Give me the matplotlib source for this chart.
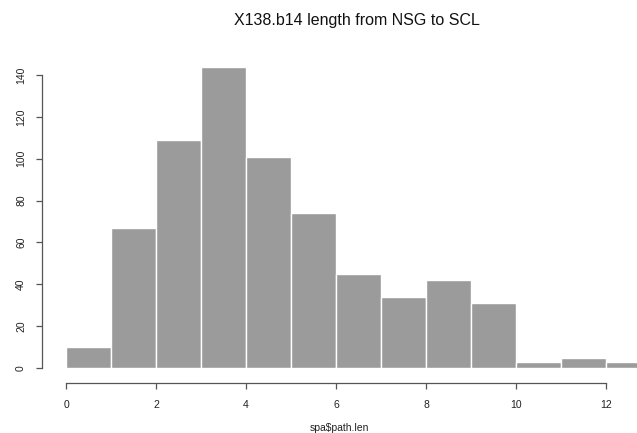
import matplotlib
matplotlib.use("Agg")
import matplotlib.pyplot as plt

# histogram bins (left edges) and counts
bin_left = [0, 1, 2, 3, 4, 5, 6, 7, 8, 9, 10, 11, 12]
counts = [10, 67, 109, 144, 101, 74, 45, 34, 42, 31, 3, 5, 3]
x_ticks = [0, 2, 4, 6, 8, 10, 12]
y_ticks = [0, 20, 40, 60, 80, 100, 120, 140]

plt.rcParams['font.family'] = ['Liberation Sans', 'DejaVu Sans']

W, H = 637, 433
fig = plt.figure(figsize=(W / 100, H / 100), dpi=100)

# axes box in pixels: left spine at x=42, bottom spine at y=383
left_px, right_px, bottom_px, top_px = 42, 637, 383, 55
ax = fig.add_axes([left_px / W, 1 - bottom_px / H,
                   (right_px - left_px) / W, (bottom_px - top_px) / H])

ppu_x = 45.0          # pixels per x unit
ppu_y = 293 / 140.0   # pixels per count (0 at y=368, 140 at y=75)
x0_px, y0_px = 66, 368
ax.set_xlim((left_px - x0_px) / ppu_x, (right_px - x0_px) / ppu_x)
ax.set_ylim(-(bottom_px - y0_px) / ppu_y, (y0_px - top_px) / ppu_y)

ax.bar(bin_left, counts, width=1, align='edge', color='#9b9b9b',
       edgecolor='white', linewidth=1.0, zorder=2)

for s in ['top', 'right']:
    ax.spines[s].set_visible(False)
ax.spines['left'].set_bounds(0, 140)
ax.spines['bottom'].set_bounds(0, 12)
for s in ['left', 'bottom']:
    ax.spines[s].set_color('#555555')
    ax.spines[s].set_linewidth(0.9)

ax.set_xticks(x_ticks)
ax.set_yticks(y_ticks)
ax.tick_params(axis='both', direction='out', length=4.5, width=0.9,
               color='#555555', labelsize=7.5, labelcolor='#222222')
ax.tick_params(axis='x', pad=8)
ax.tick_params(axis='y', pad=7)
for lab in ax.get_yticklabels():
    lab.set_rotation(90)
    lab.set_va('center')

ax.set_xlabel('spa$path.len', fontsize=7.5, color='#222222', labelpad=9)
fig.text(357 / W, 1 - 20 / H, 'X138.b14 length from NSG to SCL',
         ha='center', va='center', fontsize=11.5, color='#111111')

fig.savefig('out.png', dpi=100)
